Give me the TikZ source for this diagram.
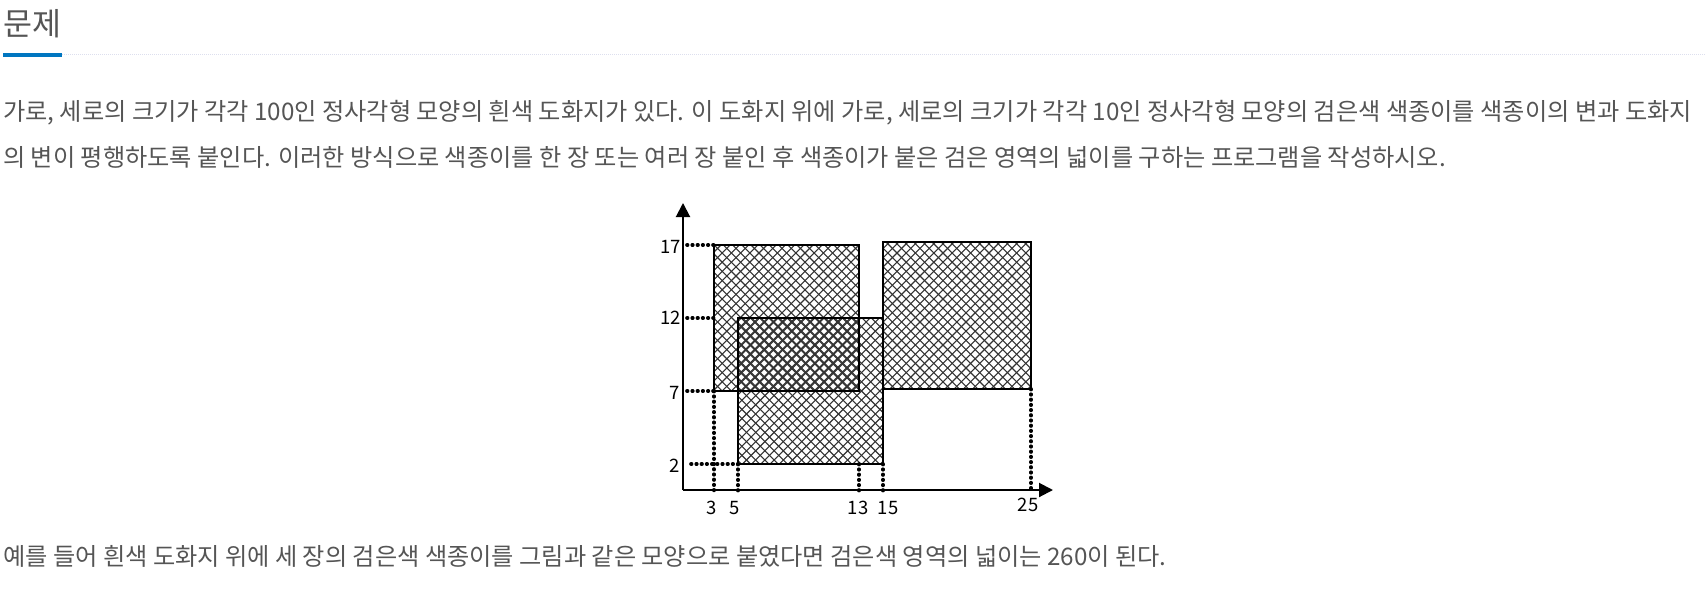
\documentclass[tikz,border=0pt]{standalone}
\usepackage{fontspec}
\newfontfamily\kr{Noto Sans CJK KR}
\usetikzlibrary{arrows.meta}
\definecolor{bodygray}{HTML}{555555}
\definecolor{tabblue}{HTML}{0076C0}
\definecolor{rulegray}{HTML}{DDDFEE}
\def\crosshatch(#1,#2)(#3,#4)#5{%
  \begin{scope}
    \clip (#1,#2) rectangle (#3,#4);
    \pgfmathsetmacro\xa{floor((#1-#2-160)/9.2)*9.2+#2+#5}
    \pgfmathsetmacro\xb{floor((#1+#2)/9.2)*9.2-#2+#5}
    \foreach \k in {0,...,36} \draw[hatch] ({\xa+\k*9.2},#2) -- ++(170,170);
    \foreach \k in {0,...,36} \draw[hatch] ({\xb+\k*9.2},#2) -- ++(-170,170);
  \end{scope}}
\tikzset{
  hatch/.style={line width=1.1pt, black!80},
  paper/.style={draw=black, line width=1.4pt},
  guide/.style={line width=3.6pt, line cap=round, dash pattern=on .6pt off 4.6pt},
  axis/.style={line width=2pt, -{Triangle[length=14pt,width=14pt]}},
  tick/.style={font=\kr\fontsize{18.5}{18.5}\selectfont, inner sep=0pt},
  body/.style={font=\kr\fontsize{24.2}{24.2}\selectfont, text=bodygray, anchor=base west, inner sep=0pt}
}
\begin{document}
\begin{tikzpicture}[x=1pt,y=-1pt]
			\useasboundingbox (0,0) rectangle (1706,594);
			
			%%%%% heading %%%%%
			\node[body, font=\kr\fontsize{31.5}{31.5}\selectfont] (title) at (3,36) {문제};
			\draw[rulegray, line width=1pt, dash pattern=on 1pt off 1pt] (62,54.5) -- (1706,54.5);
			\draw[tabblue, line width=4pt] (3,55) -- (62,55);
			
			\node[body] (line1) at (3,121) {가로, 세로의 크기가 각각 100인 정사각형 모양의 흰색 도화지가 있다. 이 도화지 위에 가로, 세로의 크기가 각각 10인 정사각형 모양의 검은색 색종이를 색종이의 변과 도화지};
			\node[body] (line2) at (3,166) {의 변이 평행하도록 붙인다. 이러한 방식으로 색종이를 한 장 또는 여러 장 붙인 후 색종이가 붙은 검은 영역의 넓이를 구하는 프로그램을 작성하시오.};
			
			%%%%% papers %%%%%
			\crosshatch(714,245)(859,391){0}
			\crosshatch(738,318)(883,464){1.3}
			\crosshatch(883,242)(1031,389){0}
			
			\coordinate (o) at (683,490);
			\draw[paper] (714,245) coordinate (a1) rectangle (859,391) coordinate (b1);
			\draw[paper] (738,318) coordinate (a2) rectangle (883,464) coordinate (b2);
			\draw[paper] (883,242) coordinate (a3) rectangle (1031,389) coordinate (b3);
			
			%%%%% guides %%%%%
			\draw[guide] ([xshift=4pt]o |- a1) -- (a1);
			\draw[guide] ([xshift=4pt]o |- a2) -- (a1 |- a2);
			\draw[guide] ([xshift=4pt]o |- b1) -- (a1 |- b1);
			\draw[guide] ([xshift=8pt]o |- b2) -- (a2 |- b2);
			\draw[guide] (a1 |- b1) -- ([yshift=-3pt]a1 |- o);
			\draw[guide] (a2 |- b2) -- ([yshift=-3pt]a2 |- o);
			\draw[guide] (b1 |- b2) -- ([yshift=-3pt]b1 |- o);
			\draw[guide] (b2) -- ([yshift=-3pt]b2 |- o);
			\draw[guide] (b3) -- (b3 |- o);
			
			%%%%% axes %%%%%
			\draw[axis] (o) -- (683,203);
			\draw[axis] (o) -- (1053,490);
			
			\node[tick, anchor=east] (y17) at (681,247) {17};
			\node[tick, anchor=east] (y12) at (681,318) {12};
			\node[tick, anchor=east] (y7) at (680,393) {7};
			\node[tick, anchor=east] (y2) at (680,466) {2};
			\node[tick] (x3) at (712,508) {3};
			\node[tick] (x5) at (735,508) {5};
			\node[tick] (x13) at (858,508) {13};
			\node[tick] (x15) at (888,508) {15};
			\node[tick] (x25) at (1028,505) {25};
			
			\node[body] (line3) at (3,565) {예를 들어 흰색 도화지 위에 세 장의 검은색 색종이를 그림과 같은 모양으로 붙였다면 검은색 영역의 넓이는 260이 된다.};
\end{tikzpicture}
\end{document}
